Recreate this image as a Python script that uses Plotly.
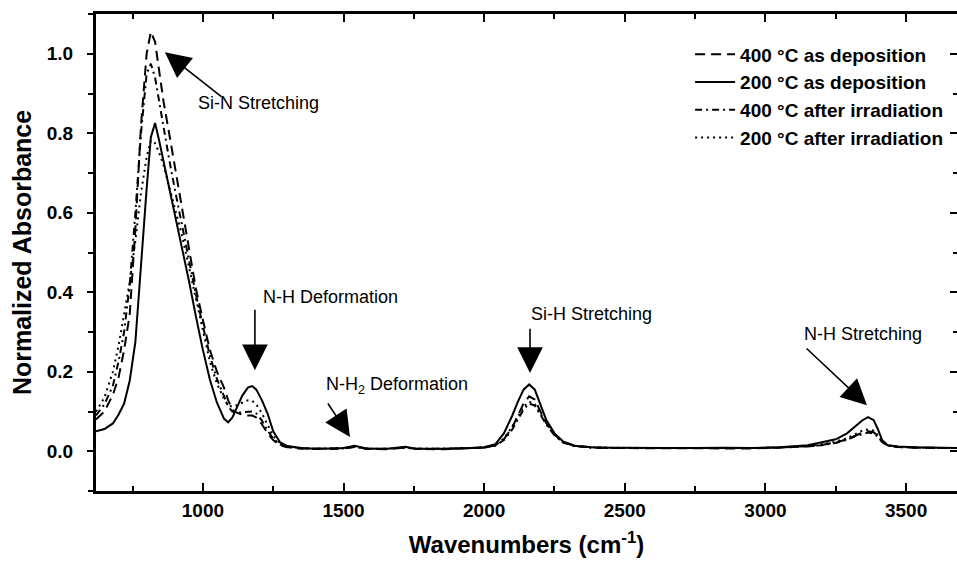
import plotly.graph_objects as go

# Wavenumber grid (cm^-1)
wavenumber = [620, 650, 680, 700, 720, 740, 760, 780, 800, 815, 830, 845, 860, 880, 900, 925, 950, 975,
              1000, 1025, 1050, 1075, 1090, 1105, 1120, 1140, 1160, 1175, 1190, 1210, 1230, 1250, 1275,
              1300, 1350, 1400, 1450, 1500, 1540, 1580, 1650, 1720, 1760, 1850, 1950, 2000, 2040, 2070,
              2100, 2120, 2140, 2160, 2180, 2200, 2220, 2250, 2280, 2320, 2380, 2450, 2550, 2650, 2750,
              2850, 2950, 3050, 3150, 3200, 3250, 3290, 3320, 3345, 3365, 3385, 3400, 3415, 3435, 3470,
              3530, 3600, 3681]

# 400 C as deposition (dashed)
abs_400_dep = [0.080, 0.100, 0.142, 0.185, 0.255, 0.345, 0.560, 0.820, 1.000, 1.055, 1.030, 0.960, 0.880,
               0.800, 0.720, 0.620, 0.510, 0.410, 0.330, 0.255, 0.200, 0.160, 0.128, 0.105, 0.097, 0.092,
               0.090, 0.090, 0.085, 0.068, 0.045, 0.028, 0.015, 0.010, 0.007, 0.006, 0.006, 0.007, 0.012,
               0.006, 0.005, 0.009, 0.006, 0.005, 0.007, 0.009, 0.015, 0.030, 0.060, 0.090, 0.120, 0.138,
               0.130, 0.100, 0.072, 0.042, 0.024, 0.014, 0.010, 0.008, 0.008, 0.007, 0.008, 0.008, 0.007,
               0.009, 0.012, 0.016, 0.022, 0.030, 0.040, 0.047, 0.050, 0.048, 0.038, 0.024, 0.014, 0.011,
               0.009, 0.008, 0.008]

# 200 C as deposition (solid)
abs_200_dep = [0.050, 0.056, 0.070, 0.092, 0.120, 0.178, 0.275, 0.475, 0.660, 0.790, 0.826, 0.780, 0.730,
               0.665, 0.600, 0.515, 0.430, 0.340, 0.255, 0.180, 0.122, 0.082, 0.073, 0.085, 0.110, 0.140,
               0.160, 0.164, 0.155, 0.128, 0.095, 0.050, 0.022, 0.013, 0.008, 0.006, 0.007, 0.008, 0.014,
               0.007, 0.006, 0.011, 0.006, 0.006, 0.008, 0.010, 0.018, 0.045, 0.090, 0.125, 0.155, 0.168,
               0.155, 0.115, 0.080, 0.045, 0.025, 0.014, 0.010, 0.009, 0.008, 0.008, 0.008, 0.009, 0.008,
               0.010, 0.015, 0.022, 0.030, 0.045, 0.062, 0.078, 0.086, 0.078, 0.055, 0.028, 0.015, 0.012,
               0.010, 0.009, 0.008]

# 400 C after irradiation (dash-dot)
abs_400_irr = [0.090, 0.118, 0.165, 0.225, 0.300, 0.420, 0.600, 0.800, 0.950, 0.975, 0.940, 0.875, 0.815,
               0.735, 0.660, 0.570, 0.480, 0.395, 0.315, 0.240, 0.182, 0.135, 0.112, 0.100, 0.097, 0.098,
               0.100, 0.100, 0.095, 0.077, 0.052, 0.032, 0.017, 0.011, 0.007, 0.006, 0.006, 0.007, 0.011,
               0.006, 0.006, 0.009, 0.006, 0.006, 0.007, 0.009, 0.014, 0.028, 0.055, 0.080, 0.105, 0.120,
               0.115, 0.092, 0.068, 0.040, 0.022, 0.013, 0.009, 0.008, 0.008, 0.007, 0.008, 0.008, 0.008,
               0.009, 0.012, 0.015, 0.021, 0.029, 0.038, 0.044, 0.047, 0.045, 0.036, 0.023, 0.014, 0.011,
               0.009, 0.008, 0.008]

# 200 C after irradiation (dotted)
abs_200_irr = [0.100, 0.135, 0.200, 0.265, 0.345, 0.425, 0.530, 0.650, 0.740, 0.782, 0.775, 0.750, 0.720,
               0.665, 0.615, 0.545, 0.465, 0.385, 0.300, 0.225, 0.170, 0.132, 0.115, 0.112, 0.116, 0.123,
               0.128, 0.127, 0.118, 0.095, 0.065, 0.038, 0.019, 0.012, 0.008, 0.006, 0.007, 0.008, 0.012,
               0.007, 0.006, 0.010, 0.006, 0.006, 0.008, 0.010, 0.016, 0.032, 0.062, 0.088, 0.112, 0.125,
               0.118, 0.095, 0.070, 0.042, 0.023, 0.014, 0.010, 0.009, 0.008, 0.008, 0.008, 0.008, 0.008,
               0.010, 0.013, 0.018, 0.024, 0.033, 0.044, 0.052, 0.055, 0.052, 0.040, 0.025, 0.015, 0.011,
               0.009, 0.008, 0.008]

series_names = ["400 °C as deposition", "200 °C as deposition",
                "400 °C after irradiation", "200 °C after irradiation"]
series_values = [abs_400_dep, abs_200_dep, abs_400_irr, abs_200_irr]
series_dash = ["10px,6px", "solid", "7px,4px,2px,4px", "2px,4px"]

x_ticks = [1000, 1500, 2000, 2500, 3000, 3500]
y_ticks = [0.0, 0.2, 0.4, 0.6, 0.8, 1.0]
y_tick_labels = ["0.0", "0.2", "0.4", "0.6", "0.8", "1.0"]

# annotation labels: (text, x, y) left-anchored
labels = [("Si-N Stretching", 976, 0.876),
          ("N-H Deformation", 1207, 0.388),
          ("N-H<sub>2</sub> Deformation", 1431, 0.165),
          ("Si-H Stretching", 2160, 0.345),
          ("N-H Stretching", 3131, 0.296)]
# arrows: (tip_x, tip_y, tail_x, tail_y)
arrows = [(865, 1.004, 1071, 0.889),
          (1185, 0.204, 1185, 0.360),
          (1523, 0.036, 1441, 0.124),
          (2163, 0.197, 2163, 0.312),
          (3361, 0.116, 3141, 0.262)]

FONT = "Liberation Sans, Arial, sans-serif"

fig = go.Figure()
for name, vals, dash in zip(series_names, series_values, series_dash):
    fig.add_trace(go.Scatter(x=wavenumber, y=vals, mode="lines", name=name,
                             line=dict(color="black", width=2, dash=dash)))
# helper trace for right-side tick axis
fig.add_trace(go.Scatter(x=[None], y=[None], yaxis="y2", showlegend=False, hoverinfo="skip"))

for text, x, y in labels:
    fig.add_annotation(x=x, y=y, text=text, showarrow=False, xanchor="left", yanchor="middle",
                       font=dict(family=FONT, size=18, color="black"))
for tx, ty, ax, ay in arrows:
    fig.add_annotation(x=tx, y=ty, ax=ax, ay=ay, axref="x", ayref="y", text="", showarrow=True,
                       arrowhead=2, arrowsize=3.2, arrowwidth=1.6, arrowcolor="black")

fig.update_layout(
    width=957, height=567,
    margin=dict(l=96, r=0, t=14, b=76),
    paper_bgcolor="white", plot_bgcolor="white",
    font=dict(family=FONT, color="black"),
    showlegend=True,
    legend=dict(x=0.69, y=0.955, xanchor="left", yanchor="top", bgcolor="rgba(0,0,0,0)",
                font=dict(family=FONT, size=19, color="black", weight="bold"),
                tracegroupgap=0, itemwidth=40),
    xaxis=dict(range=[620, 3681], tickvals=x_ticks, showgrid=False, zeroline=False,
               showline=True, linewidth=3, linecolor="black", mirror="ticks",
               ticks="inside", ticklen=8, tickwidth=2, tickcolor="black",
               minor=dict(dtick=250, tick0=0, ticks="inside", ticklen=5, tickwidth=2, tickcolor="black"),
               tickfont=dict(family=FONT, size=19, color="black", weight="bold"),
               title=dict(text="Wavenumbers (cm<sup>-1</sup>)", standoff=17,
                          font=dict(family=FONT, size=24, color="black", weight="bold"))),
    yaxis=dict(range=[-0.1, 1.1], tickvals=y_ticks, ticktext=y_tick_labels, showgrid=False,
               zeroline=False, showline=True, linewidth=3, linecolor="black",
               ticks="outside", ticklen=6, tickwidth=2, tickcolor="black", ticklabelstandoff=10,
               minor=dict(dtick=0.1, tick0=0, ticks="outside", ticklen=5, tickwidth=2, tickcolor="black"),
               tickfont=dict(family=FONT, size=19, color="black", weight="bold"),
               title=dict(text="Normalized Absorbance", standoff=9,
                          font=dict(family=FONT, size=25, color="black", weight="bold"))),
    yaxis2=dict(range=[-0.1, 1.1], overlaying="y", side="right", showgrid=False, zeroline=False,
                showline=False, tickvals=y_ticks, showticklabels=False,
                ticks="inside", ticklen=7, tickwidth=2, tickcolor="black",
                minor=dict(dtick=0.1, tick0=0, ticks="inside", ticklen=4, tickwidth=2, tickcolor="black")),
)

fig.write_html("out.html")
